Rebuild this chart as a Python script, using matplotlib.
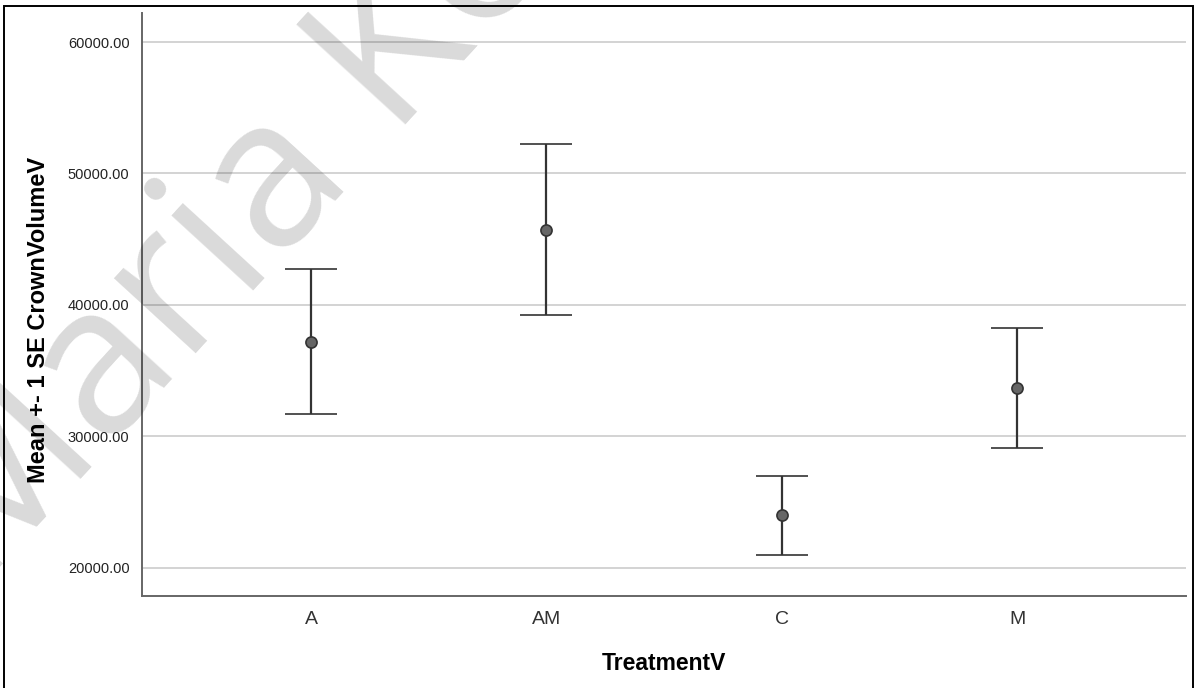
import numpy as np
import matplotlib
matplotlib.use('Agg')
import matplotlib.pyplot as plt
from matplotlib.patches import Rectangle

# group means with +-1 SE limits
treatments = ['A', 'AM', 'C', 'M']
means = [37190, 45715, 23980, 33670]
se_upper = [42725, 52220, 26985, 38215]
se_lower = [31705, 39210, 20995, 29080]
yticks = [20000, 30000, 40000, 50000, 60000]

plt.rcParams['font.family'] = ['Liberation Sans', 'DejaVu Sans']

fig = plt.figure(figsize=(11.99, 6.88), dpi=100)
W, H = 1199, 688
ax = fig.add_axes([142 / W, (H - 596) / H, (1186 - 142) / W, (596 - 13) / H])

x = np.arange(len(treatments))
means = np.array(means)
yerr = [means - np.array(se_lower), np.array(se_upper) - means]

ax.errorbar(x, means, yerr=yerr, fmt='o', color='#333333', ecolor='#333333',
            elinewidth=1.6, capsize=19, capthick=1.6, markersize=8,
            markerfacecolor='#666666', markeredgecolor='#333333',
            markeredgewidth=1.2, zorder=3)

ax.set_xlim(-0.718, len(treatments) - 1 + 0.718)
ax.set_ylim(17840, 62210)
ax.set_xticks(x)
ax.set_xticklabels(treatments, fontsize=14, color='#333333')
ax.set_yticks(yticks)
ax.set_yticklabels(['%.2f' % v for v in yticks], fontsize=10.5, color='#222222')
ax.tick_params(axis='both', length=0)
ax.tick_params(axis='y', pad=9)
ax.tick_params(axis='x', pad=11)

ax.grid(axis='y', color='#cccccc', linewidth=1.2, zorder=0)
ax.set_axisbelow(True)
for side in ['top', 'right']:
    ax.spines[side].set_visible(False)
for side in ['left', 'bottom']:
    ax.spines[side].set_color('#666666')
    ax.spines[side].set_linewidth(1.4)

ax.set_xlabel('TreatmentV', fontsize=16.5, fontweight='bold', labelpad=17)
ax.set_ylabel('Mean +- 1 SE CrownVolumeV', fontsize=17, fontweight='bold')
ax.yaxis.set_label_coords(-0.088, 0.473)

# outer frame
fig.patches.append(Rectangle((3.5 / W, -0.05), (1193 - 3.5) / W, 1.05 - 6 / H,
                             transform=fig.transFigure, fill=False,
                             edgecolor='black', linewidth=1.4))

# watermark
fig.text(-20 / W, 1 - 590 / H, 'Maria Ko', fontsize=150, family='Open Sans',
         color='black', alpha=0.15, rotation=47.5, rotation_mode='anchor',
         ha='left', va='baseline', zorder=10)

fig.savefig('out.png', dpi=100)
